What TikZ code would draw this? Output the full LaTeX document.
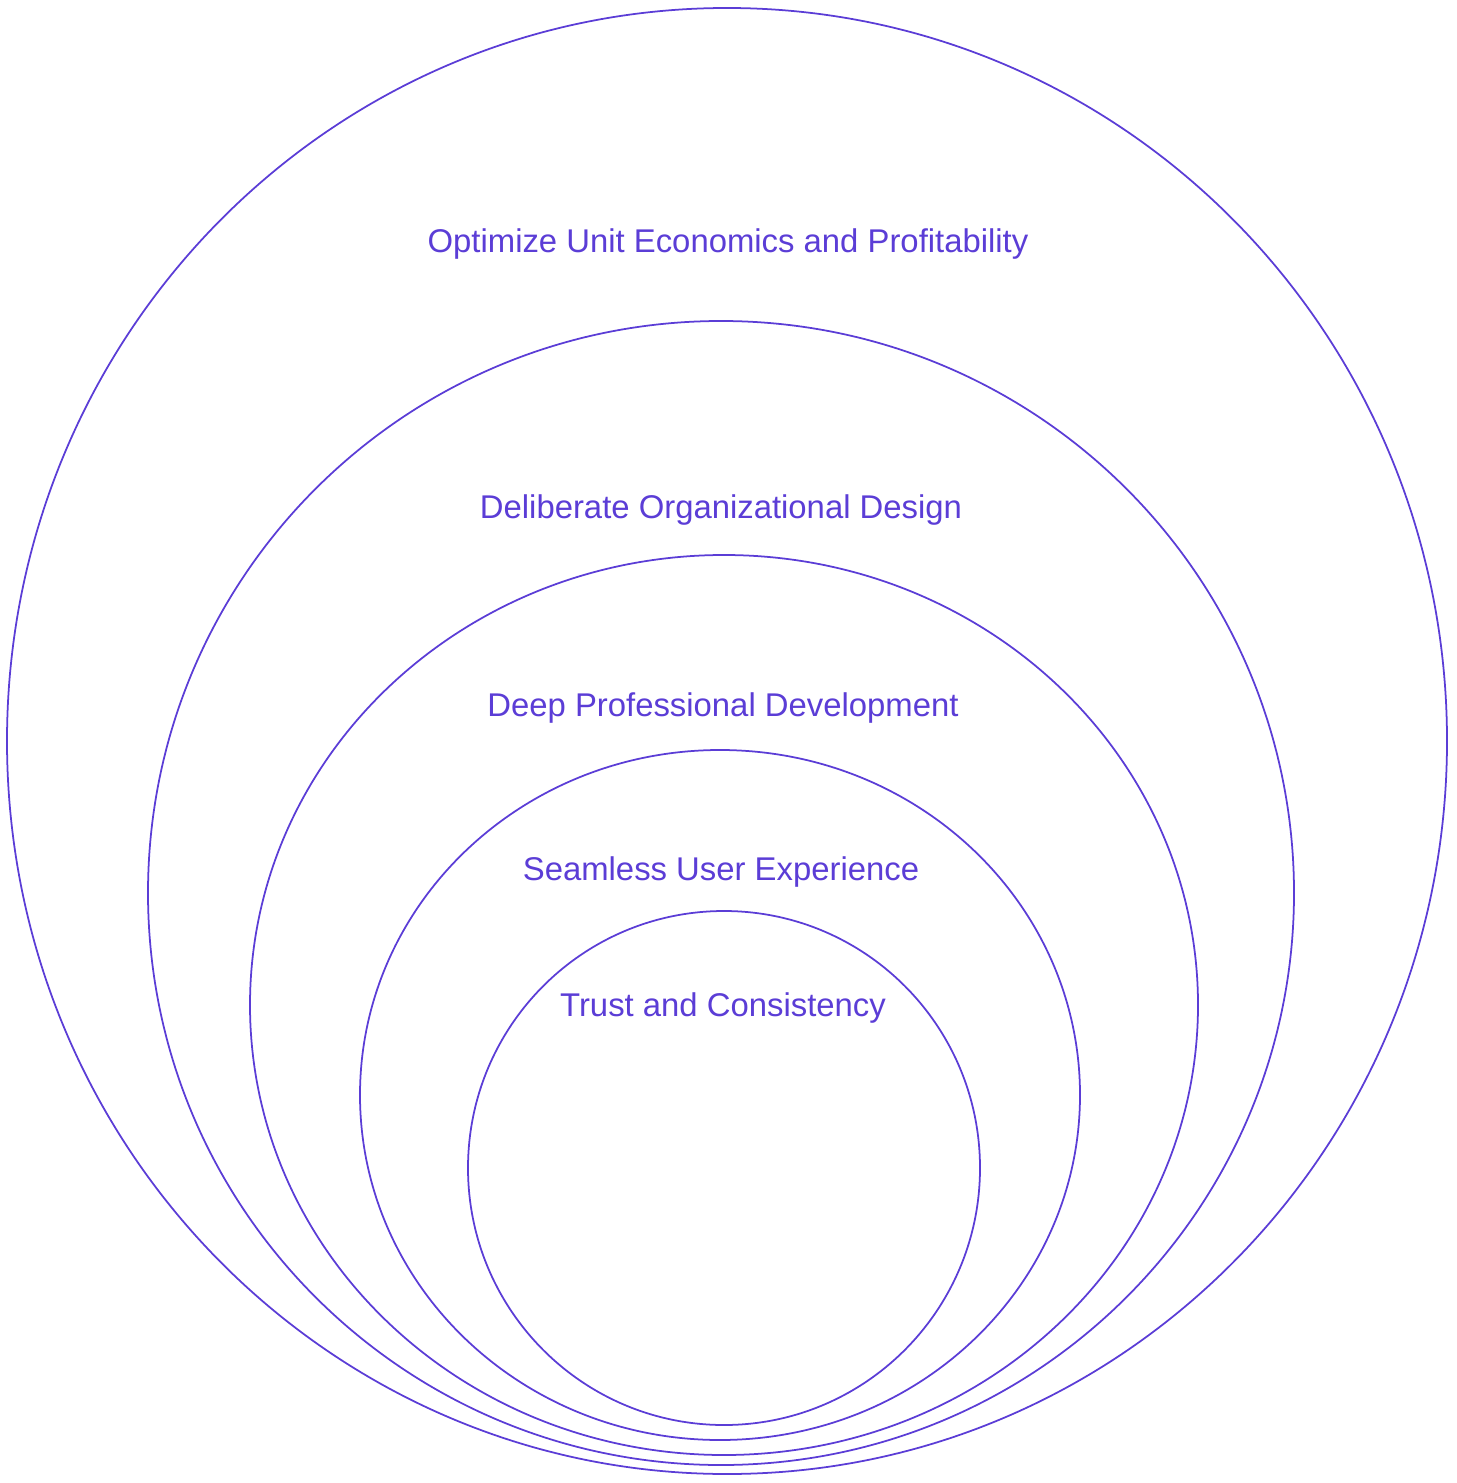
\documentclass[tikz,border=0pt]{standalone}
\usepackage{fontspec}
\setmainfont{Liberation Sans}
\definecolor{violet}{HTML}{5B3DD6}

\begin{document}
\begin{tikzpicture}[x=0.02cm, y=-0.02cm,
        ring/.style={draw=violet, line width=1pt},
        lbl/.style={text=violet, font=\fontsize{18.7}{21}\selectfont, inner sep=0pt}]

      \useasboundingbox (0,0) rectangle (1456,1483);

      % nested rings, outermost first
      \draw[ring] (727,741) ellipse [x radius=720, y radius=733];
      \draw[ring] (721,893) ellipse [x radius=573, y radius=572];
      \draw[ring] (724,1005) ellipse [x radius=474, y radius=450];
      \draw[ring] (720,1095) ellipse [x radius=360, y radius=345];
      \draw[ring] (724,1168) ellipse [x radius=256, y radius=257];

      % labels
      \node[lbl] (profit) at (728,244) {Optimize Unit Economics and Profitability};
      \node[lbl] (org) at (721,510) {Deliberate Organizational Design};
      \node[lbl] (dev) at (723,708) {Deep Professional Development};
      \node[lbl] (ux) at (721,872) {Seamless User Experience};
      \node[lbl] (trust) at (723,1008) {Trust and Consistency};
    \end{tikzpicture}
\end{document}
